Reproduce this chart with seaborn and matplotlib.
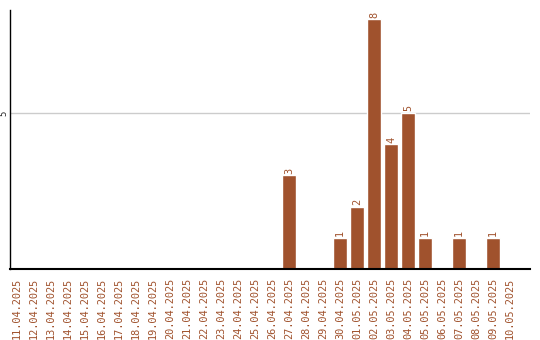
import matplotlib
matplotlib.use("Agg")
import matplotlib.pyplot as plt
import seaborn as sns
import pandas as pd

dates = ["11.04.2025", "12.04.2025", "13.04.2025", "14.04.2025", "15.04.2025",
         "16.04.2025", "17.04.2025", "18.04.2025", "19.04.2025", "20.04.2025",
         "21.04.2025", "22.04.2025", "23.04.2025", "24.04.2025", "25.04.2025",
         "26.04.2025", "27.04.2025", "28.04.2025", "29.04.2025", "30.04.2025",
         "01.05.2025", "02.05.2025", "03.05.2025", "04.05.2025", "05.05.2025",
         "06.05.2025", "07.05.2025", "08.05.2025", "09.05.2025", "10.05.2025"]
counts = [0, 0, 0, 0, 0, 0, 0, 0, 0, 0,
          0, 0, 0, 0, 0, 0, 3, 0, 0, 1,
          2, 8, 4, 5, 1, 0, 1, 0, 1, 0]

sns.set_style("white")
plt.rcParams['font.family'] = ['DejaVu Sans Mono', 'DejaVu Sans']

color = "#A0522D"
df = pd.DataFrame({"date": dates, "count": counts})

fig = plt.figure(figsize=(5.4, 3.4), dpi=100)
ax = fig.add_axes([10/540, 1 - 269/340, 520/540, 259/340])
sns.barplot(data=df, x="date", y="count", color=color, saturation=1,
            width=0.82, ax=ax)

for i, v in enumerate(counts):
    if v > 0:
        ax.text(i, v + 0.05, str(v), rotation=90, ha="center", va="bottom",
                color=color, fontsize=7.4)

ax.set_xlim(-0.41, 30.18)
ax.set_ylim(0, 8.3)
ax.set_yticks([5])
ax.set_yticklabels(["5"], rotation=90, va="center", fontsize=6.5)
ax.yaxis.grid(True, color="#cccccc", linewidth=1)
ax.set_axisbelow(True)
ax.tick_params(axis="x", length=0, pad=6, labelsize=7.4, labelcolor=color)
ax.tick_params(axis="y", length=0, pad=1)
for lbl in ax.get_xticklabels():
    lbl.set_rotation(90)
ax.set_xlabel("")
ax.set_ylabel("")
for s in ["top", "right"]:
    ax.spines[s].set_visible(False)
ax.spines["left"].set_color("black")
ax.spines["bottom"].set_color("black")
ax.spines["left"].set_linewidth(1)
ax.spines["bottom"].set_linewidth(1.5)

fig.savefig("out.png", dpi=100)
